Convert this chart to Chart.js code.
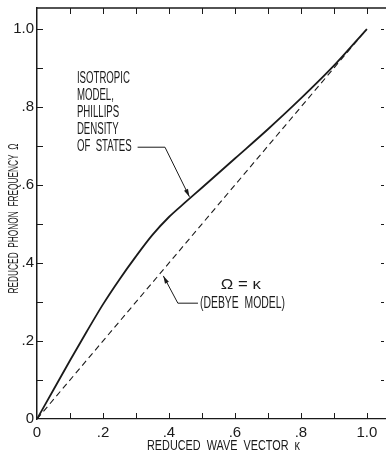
<!DOCTYPE html>
<html>
<head>
<meta charset="utf-8">
<script src="https://cdn.jsdelivr.net/npm/chart.js@4.4.1/dist/chart.umd.min.js"></script>
<style>
  html, body { margin: 0; padding: 0; background: #fff; }
  #wrap { width: 386px; height: 458px; position: relative; }
</style>
</head>
<body>
<div id="wrap"><canvas id="chart"></canvas></div>
<script>
// reduced wave vector (kappa) and reduced frequency (Omega)
const kappa = [0, 0.05, 0.1, 0.15, 0.2, 0.25, 0.3, 0.35, 0.4, 0.45, 0.5, 0.6, 0.7, 0.8, 0.9, 1.0];
const omegaPhillips = [0, 0.075, 0.15, 0.223, 0.294, 0.358, 0.417, 0.472, 0.518, 0.556, 0.593, 0.668, 0.743, 0.822, 0.906, 1.0];
const kappaDebye = [0, 1.0];
const omegaDebye = [0, 1.0];

const tickValues = [0, 0.1, 0.2, 0.3, 0.4, 0.5, 0.6, 0.7, 0.8, 0.9, 1.0];
const labeledTicks = [0, 0.2, 0.4, 0.6, 0.8, 1.0];
const tickLabels = ['0', '.2', '.4', '.6', '.8', '1.0'];

const xTitle = 'REDUCED  WAVE  VECTOR  \u03BA';
const yTitle = 'REDUCED  PHONON  FREQUENCY  \u03A9';
const noteLines = ['ISOTROPIC', 'MODEL,', 'PHILLIPS', 'DENSITY', 'OF  STATES'];
const debyeEq = '\u03A9 = \u03BA';
const debyeNote = '(DEBYE  MODEL)';

const FONT = '"Liberation Sans", Arial, sans-serif';
const INK = '#1a1a1a';

function labelFor(v) {
    const i = labeledTicks.findIndex(t => Math.abs(t - v) < 1e-6);
    return i >= 0 ? tickLabels[i] : '';
}

// squeezed text, to get the tall narrow lettering of the original
function narrowText(ctx, s, x, y, sx, align) {
    const w = ctx.measureText(s).width * sx;
    let x0 = x;
    if (align === 'center') x0 = x - w / 2;
    if (align === 'right') x0 = x - w;
    ctx.save();
    ctx.translate(x0, y);
    ctx.scale(sx, 1);
    ctx.textAlign = 'left';
    ctx.fillText(s, 0, 0);
    ctx.restore();
}

function arrow(ctx, pts) {
    ctx.beginPath();
    ctx.moveTo(pts[0][0], pts[0][1]);
    for (let i = 1; i < pts.length; i++) ctx.lineTo(pts[i][0], pts[i][1]);
    ctx.stroke();
    const [x1, y1] = pts[pts.length - 2];
    const [x2, y2] = pts[pts.length - 1];
    const ang = Math.atan2(y2 - y1, x2 - x1);
    ctx.beginPath();
    ctx.moveTo(x2, y2);
    ctx.lineTo(x2 - 8 * Math.cos(ang - 0.28), y2 - 8 * Math.sin(ang - 0.28));
    ctx.lineTo(x2 - 8 * Math.cos(ang + 0.28), y2 - 8 * Math.sin(ang + 0.28));
    ctx.closePath();
    ctx.fill();
}

const decor = {
    id: 'decor',
    afterDraw(chart) {
        const { ctx, chartArea: a, scales: { x, y } } = chart;
        const P = (k, om) => [x.getPixelForValue(k), y.getPixelForValue(om)];
        ctx.save();
        ctx.strokeStyle = INK;
        ctx.fillStyle = INK;

        // top frame line
        ctx.lineWidth = 1.5;
        ctx.beginPath();
        ctx.moveTo(a.left, a.top);
        ctx.lineTo(a.right, a.top);
        ctx.stroke();

        // inward tick marks on all sides
        ctx.lineWidth = 1;
        ctx.beginPath();
        tickValues.forEach(v => {
            if (v === 0) return;
            const px = Math.round(x.getPixelForValue(v)) + 0.5;
            ctx.moveTo(px, a.top); ctx.lineTo(px, a.top + 6);
            ctx.moveTo(px, a.bottom); ctx.lineTo(px, a.bottom - 6);
            const py = Math.round(y.getPixelForValue(v)) + 0.5;
            ctx.moveTo(a.left, py); ctx.lineTo(a.left + 6, py);
            ctx.moveTo(a.right - 5, py); ctx.lineTo(a.right - 2, py);
        });
        ctx.stroke();

        ctx.textBaseline = 'middle';

        // axis titles
        ctx.font = '15px ' + FONT;
        narrowText(ctx, xTitle, (a.left + a.right) / 2 + 12, 446,
            153 / ctx.measureText(xTitle).width, 'center');
        ctx.save();
        ctx.translate(14, (a.top + a.bottom) / 2 + 5);
        ctx.rotate(-Math.PI / 2);
        narrowText(ctx, yTitle, 0, 0, 150 / ctx.measureText(yTitle).width, 'center');
        ctx.restore();

        // annotations
        ctx.font = '16px ' + FONT;
        const sx = 53 / ctx.measureText('ISOTROPIC').width;
        const [bx, by] = P(0.121, 0.874);
        noteLines.forEach((s, i) => narrowText(ctx, s, bx, by + i * 17, sx, 'left'));

        ctx.lineWidth = 1;
        arrow(ctx, [P(0.305, 0.697), P(0.388, 0.697), P(0.462, 0.570)]);

        ctx.font = '15px ' + FONT;
        const [ox, oy] = P(0.618, 0.344);
        narrowText(ctx, debyeEq, ox, oy, 40 / ctx.measureText(debyeEq).width, 'center');
        ctx.font = '16px ' + FONT;
        const [dx, dy] = P(0.494, 0.297);
        narrowText(ctx, debyeNote, dx, dy, 85 / ctx.measureText(debyeNote).width, 'left');
        arrow(ctx, [P(0.488, 0.297), P(0.427, 0.297), P(0.383, 0.367)]);

        ctx.restore();
    }
};

new Chart(document.getElementById('chart'), {
    type: 'line',
    data: {
        datasets: [
            {
                label: 'Isotropic model, Phillips density of states',
                data: kappa.map((k, i) => ({ x: k, y: omegaPhillips[i] })),
                borderColor: INK,
                borderWidth: 1.8,
                pointRadius: 0,
                cubicInterpolationMode: 'monotone',
                fill: false
            },
            {
                label: 'Debye model',
                data: kappaDebye.map((k, i) => ({ x: k, y: omegaDebye[i] })),
                borderColor: INK,
                borderWidth: 1.1,
                borderDash: [6, 4],
                pointRadius: 0,
                fill: false
            }
        ]
    },
    options: {
        responsive: true,
        maintainAspectRatio: false,
        animation: false,
        layout: { padding: { top: 8, right: 0, left: 0, bottom: 0 } },
        plugins: {
            legend: { display: false },
            tooltip: { enabled: false }
        },
        scales: {
            x: {
                type: 'linear',
                min: 0,
                max: 1.058,
                afterBuildTicks: s => { s.ticks = labeledTicks.map(v => ({ value: v })); },
                afterFit: s => { s.height = 39; s.paddingLeft = 0; s.paddingRight = 0; },
                grid: { drawOnChartArea: false, drawTicks: false },
                border: { display: true, color: INK, width: 1.2 },
                ticks: {
                    color: INK,
                    padding: 5,
                    maxRotation: 0,
                    autoSkip: false,
                    font: { family: FONT, size: 15 },
                    callback: v => labelFor(v)
                }
            },
            y: {
                type: 'linear',
                min: 0,
                max: 1.054,
                afterBuildTicks: s => { s.ticks = labeledTicks.map(v => ({ value: v })); },
                afterFit: s => { s.width = 37; s.paddingTop = 0; s.paddingBottom = 0; },
                grid: { drawOnChartArea: false, drawTicks: false },
                border: { display: true, color: INK, width: 1.5 },
                ticks: {
                    color: INK,
                    padding: 3,
                    autoSkip: false,
                    font: { family: FONT, size: 15 },
                    callback: v => labelFor(v)
                }
            }
        }
    },
    plugins: [decor]
});
</script>
</body>
</html>
